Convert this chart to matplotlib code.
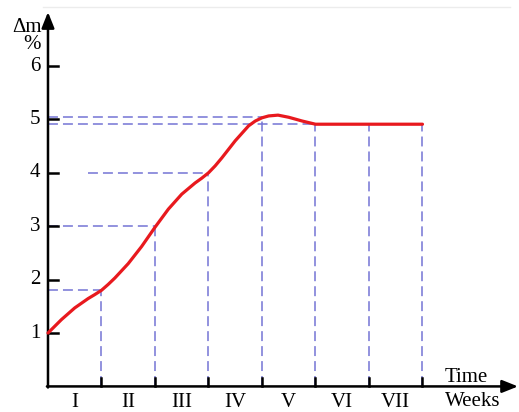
import numpy as np
import matplotlib
matplotlib.use("Agg")
import matplotlib.pyplot as plt

plt.rcParams['font.family'] = ['Liberation Serif', 'DejaVu Serif']

# courbe de variation de masse
temps = [0, 0.25, 0.5, 0.75, 0.875, 1.0, 1.125, 1.25, 1.5, 1.75, 2.0, 2.25, 2.5,
         2.75, 2.875, 3.0, 3.125, 3.25, 3.5, 3.75, 3.875, 4.0, 4.125, 4.3, 4.5,
         4.75, 5.0, 6.0, 7.0]
dm = [1.0, 1.25, 1.47, 1.645, 1.72, 1.8, 1.91, 2.03, 2.3, 2.62, 2.98, 3.32, 3.6,
      3.81, 3.9, 4.0, 4.13, 4.28, 4.6, 4.88, 4.97, 5.03, 5.065, 5.08, 5.04,
      4.97, 4.91, 4.91, 4.91]

semaines = ["I", "II", "III", "IV", "V", "VI", "VII"]
yticks = [1, 2, 3, 4, 5, 6]

# lignes de repère pointillées verticales : (x, niveau)
reperes_x = [1, 2, 3, 4, 5, 6, 7]
reperes_y = [1.8, 3.0, 4.0, 5.04, 4.91, 4.91, 4.91]
# horizontales : (niveau, debut, fin)
horiz_niv = [1.8, 3.0, 4.0, 5.04, 4.91]
horiz_deb = [0, 0, 0.75, 0, 0]
horiz_fin = [1, 2, 3, 4, 5]

fig = plt.figure(figsize=(5.19, 4.12), dpi=100)
ax = fig.add_axes([0, 0, 1, 1])
ax.set_xlim(-0.897, 8.804)
ax.set_ylim(-0.479, 7.236)
ax.axis('off')

bleu = '#7474d4'
for x, y in zip(reperes_x, reperes_y):
    ax.plot([x, x], [0, y], color=bleu, lw=1.1, dashes=(6.5, 3.3))
for y, a, b in zip(horiz_niv, horiz_deb, horiz_fin):
    ax.plot([a, b], [y, y], color=bleu, lw=1.1, dashes=(6.5, 3.3))

ax.plot(temps, dm, color='#e8191e', lw=2.3, solid_capstyle='round',
        solid_joinstyle='round', zorder=5)

# axes avec fleches
fl = dict(arrowstyle='-|>,head_length=0.5,head_width=0.2', lw=1.8, color='black',
          mutation_scale=19, shrinkA=0, shrinkB=0)
ax.annotate('', xy=(8.785, 0), xytext=(-0.02, 0), arrowprops=fl)
ax.annotate('', xy=(0, 7.01), xytext=(0, -0.02), arrowprops=fl)

for y in yticks:
    ax.plot([0, 0.19], [y, y], color='black', lw=1.8)
    ax.text(-0.243, y, str(y), fontsize=15, ha='center', va='center')
for x in reperes_x:
    ax.plot([x, x], [0, 0.16], color='black', lw=1.8)

for i, s in enumerate(semaines):
    ax.text(i + 0.5, -0.3, s, fontsize=15, ha='center', va='center')

ax.text(7.81, 0.16, 'Time', fontsize=15, ha='center', va='center')
ax.text(7.94, -0.29, 'Weeks', fontsize=15, ha='center', va='center')
ax.text(-0.39, 6.73, '\u0394m', fontsize=15, ha='center', va='center')
ax.text(-0.30, 6.41, '%', fontsize=15, ha='center', va='center')

# trait gris clair en haut
ax.plot([-0.1, 8.63], [7.1, 7.1], color='#ececec', lw=1)

plt.savefig('out.png', dpi=100)
